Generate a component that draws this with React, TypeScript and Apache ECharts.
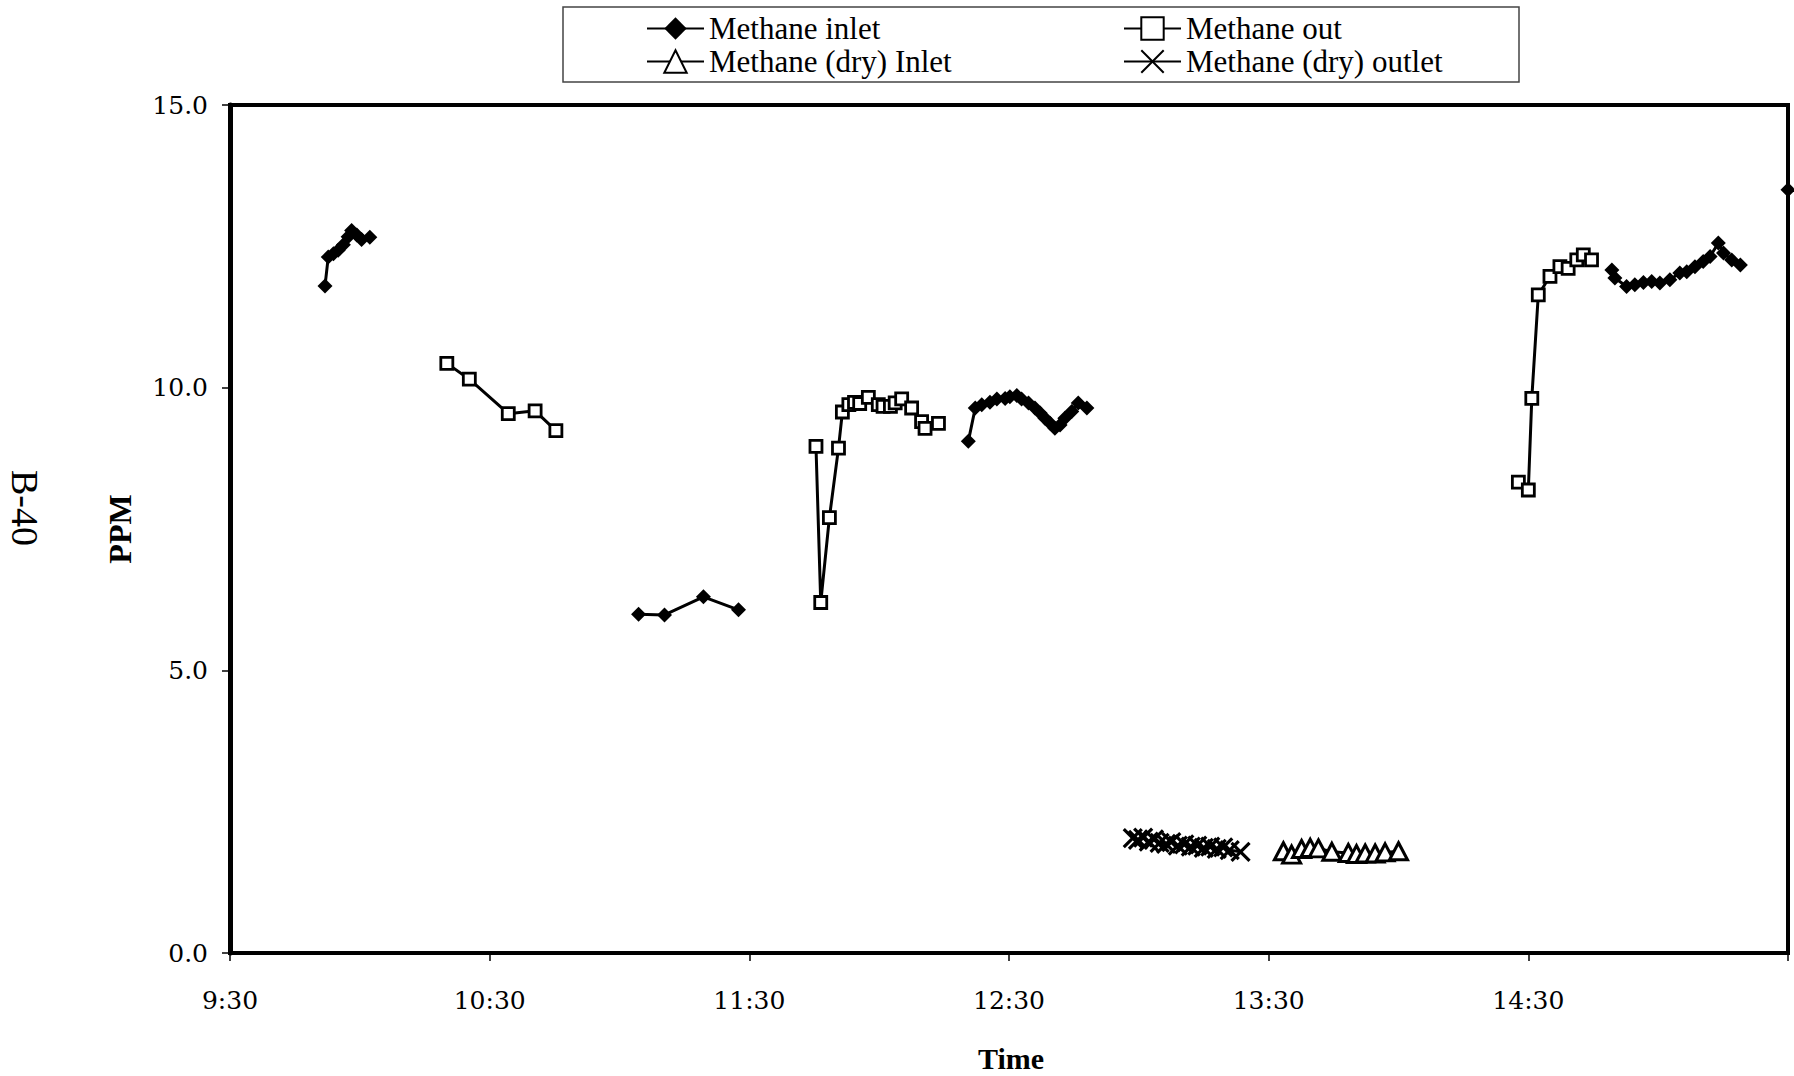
import React, { useEffect, useRef } from "react";
import * as echarts from "echarts";

// x values: minutes after 9:30; null marks a gap in the line
const inletTimes = [21.95, 22.7, 23.9, 25.0, 26.2, 27.3, 28.1, 29.3, 30.4, 32.3, null,
  94.4, 100.4, 109.4, 117.5, null,
  170.6, 172.2, 173.7, 175.6, 177.2, 179.1, 180.2, 181.8, 182.9, 184.5, 186.0, 187.2, 188.3, 189.5, 190.6, 191.8, 192.9, 194.5, 196.0, 198.0, null,
  319.3, 320.0, 322.7, 324.6, 326.6, 328.5, 330.4, 332.7, 335.0, 336.6, 338.5, 340.4, 342.0, 343.9, 345.1, 347.0, 349.0, null,
  360];
const inletValues = [11.80, 12.31, 12.37, 12.43, 12.53, 12.67, 12.78, 12.70, 12.62, 12.66, null,
  5.99, 5.98, 6.30, 6.07, null,
  9.05, 9.64, 9.70, 9.74, 9.80, 9.81, 9.84, 9.86, 9.80, 9.73, 9.64, 9.55, 9.46, 9.37, 9.28, 9.34, 9.46, 9.58, 9.73, 9.64, null,
  12.08, 11.94, 11.79, 11.82, 11.86, 11.88, 11.85, 11.91, 12.03, 12.05, 12.14, 12.23, 12.32, 12.56, 12.38, 12.26, 12.17, null,
  13.5];

const outTimes = [50.1, 55.3, 64.3, 70.5, 75.3, null,
  135.4, 136.5, 138.5, 140.6, 141.5, 143.0, 144.3, 145.5, 147.5, 149.8, 150.9, 152.6, 153.7, 155.2, 157.5, 159.8, 160.6, 163.7, null,
  297.7, 300.0, 300.8, 302.3, 305.0, 307.3, 309.2, 311.2, 312.7, 314.6];
const outValues = [10.43, 10.15, 9.54, 9.59, 9.24, null,
  8.96, 6.20, 7.70, 8.93, 9.57, 9.70, 9.74, 9.72, 9.83, 9.70, 9.67, 9.67, 9.73, 9.80, 9.64, 9.40, 9.28, 9.37, null,
  8.33, 8.19, 9.81, 11.64, 11.97, 12.14, 12.11, 12.26, 12.35, 12.26];

const dryInletTimes = [243.4, 245.3, 247.6, 249.6, 251.5, 254.6, 258.4, 260.3, 262.3, 264.6, 266.9, 270.0];
const dryInletValues = [1.80, 1.74, 1.84, 1.86, 1.85, 1.79, 1.77, 1.75, 1.76, 1.76, 1.78, 1.80];

const dryOutletTimes = [208.6, 209.8, 211.0, 212.3, 213.5, 214.8, 216.3, 217.5, 219.0, 220.5, 222.0, 223.5, 225.0, 226.5, 228.0, 229.5, 231.0, 233.5];
const dryOutletValues = [2.03, 2.00, 2.04, 1.97, 2.01, 1.95, 1.93, 1.96, 1.90, 1.92, 1.88, 1.90, 1.86, 1.88, 1.84, 1.87, 1.82, 1.79];

const seriesNames = ["Methane inlet", "Methane out", "Methane (dry) Inlet", "Methane (dry) outlet"];

const pairs = (xs: (number | null)[], ys: (number | null)[]) =>
  xs.map((x, i) => (x === null || ys[i] === null ? ["-", "-"] : [x, ys[i]]));

const fmtTime = (m: number) => {
  const t = 570 + m;
  const h = Math.floor(t / 60);
  const mm = Math.round(t % 60);
  return `${h}:${String(mm).padStart(2, "0")}`;
};

const SERIF = "Liberation Serif";

export default function App() {
  const ref = useRef<HTMLDivElement>(null);
  useEffect(() => {
    if (!ref.current) return;
    const chart = echarts.init(ref.current, undefined, { renderer: "svg" });
    const line = { color: "#000", width: 3 };
    const legendCommon = {
      orient: "vertical",
      itemWidth: 57,
      itemHeight: 28,
      itemGap: 2,
      selectedMode: false,
      textStyle: { fontFamily: SERIF, fontSize: 31, color: "#000" },
    };
    chart.setOption({
      animation: false,
      backgroundColor: "#fff",
      grid: {
        left: 230, top: 105, right: 6, bottom: 123,
        show: true, borderColor: "#000", borderWidth: 4,
      },
      legend: [
        { ...legendCommon, data: [seriesNames[0], seriesNames[2]], left: 641, top: 8 },
        { ...legendCommon, data: [seriesNames[1], seriesNames[3]], left: 1118, top: 8 },
      ],
      xAxis: {
        type: "value", min: 0, max: 360, interval: 60,
        splitLine: { show: false },
        axisLine: { show: true, lineStyle: { color: "#000", width: 4 } },
        axisTick: { show: true, length: 8, lineStyle: { color: "#000", width: 1.5 } },
        axisLabel: {
          margin: 35, color: "#000", fontFamily: "DejaVu Serif", fontSize: 25,
          formatter: (v: number) => (v >= 360 ? "" : fmtTime(v)),
        },
      },
      yAxis: {
        type: "value", min: 0, max: 15, interval: 5,
        splitLine: { show: false },
        axisLine: { show: true, lineStyle: { color: "#000", width: 5 } },
        axisTick: { show: true, length: 8, lineStyle: { color: "#000", width: 1.5 } },
        axisLabel: {
          margin: 22, color: "#000", fontFamily: "DejaVu Serif", fontSize: 25,
          formatter: (v: number) => v.toFixed(1),
        },
      },
      graphic: [
        { type: "rect", shape: { x: 563, y: 7, width: 956, height: 75 },
          style: { fill: "none", stroke: "#444", lineWidth: 1.5 }, z: 10 },
        { type: "text", x: 120, y: 529, rotation: Math.PI / 2,
          style: { text: "PPM", fontFamily: SERIF, fontWeight: "bold", fontSize: 32, fill: "#000",
            textAlign: "center", textVerticalAlign: "middle" } },
        { type: "text", x: 1011, y: 1058,
          style: { text: "Time", fontFamily: SERIF, fontWeight: "bold", fontSize: 30, fill: "#000",
            textAlign: "center", textVerticalAlign: "middle" } },
        { type: "text", x: 25, y: 508, rotation: -Math.PI / 2,
          style: { text: "B-40", fontFamily: SERIF, fontSize: 38, fill: "#000",
            textAlign: "center", textVerticalAlign: "middle" } },
      ],
      series: [
        {
          name: seriesNames[0], type: "line", data: pairs(inletTimes, inletValues),
          symbol: "diamond", symbolSize: 15, showAllSymbol: true,
          itemStyle: { color: "#000" }, lineStyle: line, connectNulls: false,
        },
        {
          name: seriesNames[1], type: "line", data: pairs(outTimes, outValues),
          symbol: "rect", symbolSize: 12, showAllSymbol: true,
          itemStyle: { color: "#fff", borderColor: "#000", borderWidth: 2.8 }, lineStyle: line,
        },
        {
          name: seriesNames[2], type: "line", data: pairs(dryInletTimes, dryInletValues),
          symbol: "triangle", symbolSize: [18, 17], showAllSymbol: true,
          itemStyle: { color: "#fff", borderColor: "#000", borderWidth: 3 }, lineStyle: line,
        },
        {
          name: seriesNames[3], type: "line", data: pairs(dryOutletTimes, dryOutletValues),
          symbol: "path://M0,0L20,20M20,0L0,20", symbolSize: 18, showAllSymbol: true,
          itemStyle: { color: "#000", borderColor: "#000", borderWidth: 3.2 }, lineStyle: line,
        },
      ],
    });
    return () => chart.dispose();
  }, []);
  return (
    <div
      ref={ref}
      style={{ position: "fixed", left: 0, top: 0, width: 1794, height: 1076, background: "#fff" }}
    />
  );
}
